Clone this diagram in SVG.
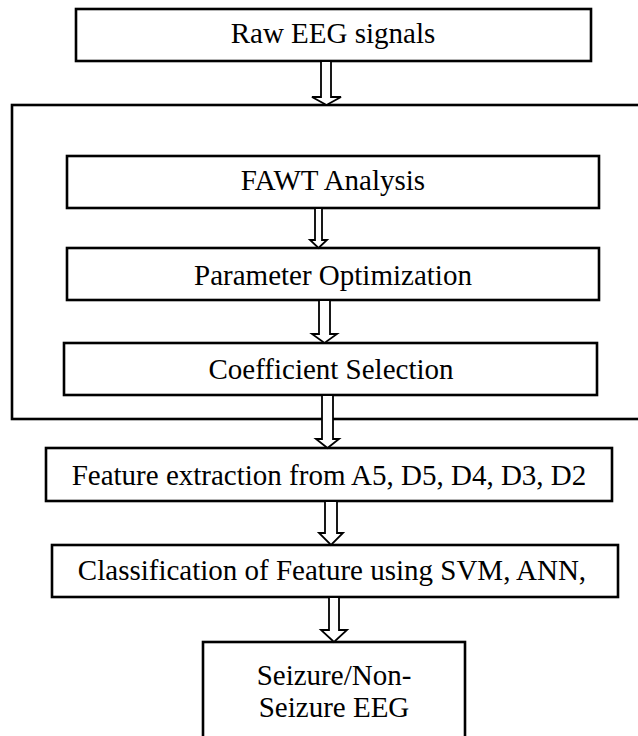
<svg xmlns="http://www.w3.org/2000/svg" width="638" height="736" viewBox="0 0 638 736">
  <style>
    .box { fill: #ffffff; stroke: #000000; stroke-width: 2.6; }
    .arrow { fill: #ffffff; stroke: #000000; stroke-width: 1.8; stroke-linejoin: miter; }
    text { font-family: 'Liberation Serif', 'Times New Roman', Times, serif; fill: #000000; text-anchor: middle; font-size: 29px; }
  </style>
  <rect width="638" height="736" fill="#ffffff"/>

  <!-- outer processing frame (runs off the right edge) -->
  <g id="frame">
    <rect class="box" x="12" y="105" width="640" height="314"/>
  </g>

  <g id="raw">
    <rect class="box" x="76" y="9" width="515" height="52"/>
    <text x="333" y="43" font-size="22">Raw EEG signals</text>
  </g>

  <g id="fawt">
    <rect class="box" x="67" y="156" width="532" height="52"/>
    <text x="333" y="190" font-size="23">FAWT Analysis</text>
  </g>

  <g id="param">
    <rect class="box" x="67" y="248" width="532" height="52"/>
    <text x="333" y="285">Parameter Optimization</text>
  </g>

  <g id="coeff">
    <rect class="box" x="64" y="343" width="533" height="52"/>
    <text x="331" y="379">Coefficient Selection</text>
  </g>

  <g id="feature">
    <rect class="box" x="46" y="448" width="566" height="53"/>
    <text x="329" y="485">Feature extraction from A5, D5, D4, D3, D2</text>
  </g>

  <g id="classify">
    <rect class="box" x="52" y="545" width="566" height="52"/>
    <text x="332" y="580">Classification of Feature using SVM, ANN,</text>
  </g>

  <g id="result">
    <rect class="box" x="203" y="642" width="262" height="110"/>
    <text x="334" y="685" font-size="28">Seizure/Non-</text>
    <text x="334" y="717" font-size="28">Seizure EEG</text>
  </g>

  <!-- hollow block arrows between stages -->
  <g id="connectors">
    <path class="arrow" d="M321,61 V97 H312 L326.5,105 L341,97 H331 V61 Z"/>
    <path class="arrow" d="M315,208 V240 H310 L318.5,248 L327,240 H322 V208 Z"/>
    <path class="arrow" d="M319,300 V334 H312 L324.5,343 L337,334 H330 V300 Z"/>
    <path class="arrow" d="M322,395 V439 H316 L327.5,448 L339,439 H333 V395 Z"/>
    <path class="arrow" d="M325,501 V533 H319 L331,545 L343,533 H337 V501 Z"/>
    <path class="arrow" d="M329,597 V630 H321 L334,642 L347,630 H339 V597 Z"/>
  </g>
</svg>
